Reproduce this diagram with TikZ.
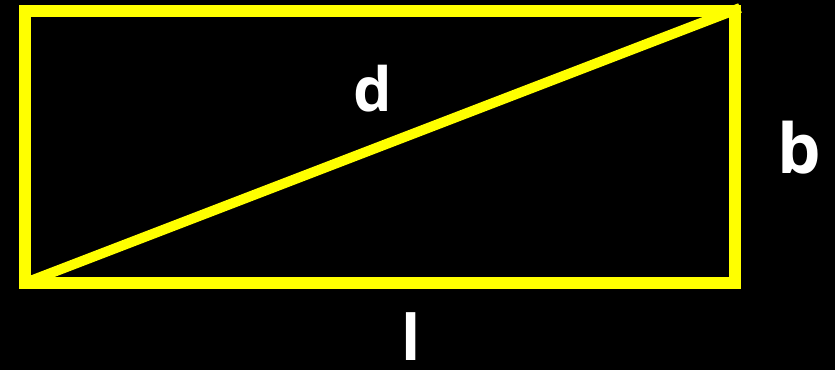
\documentclass[tikz,border=0pt]{standalone}
\usepackage{fontspec}
\setmainfont{Open Sans}
\definecolor{rectyellow}{RGB}{255,255,0}
\tikzset{
  side/.style={line width=12pt,rectyellow},
  diag/.style={line width=10pt,rectyellow},
  lbl/.style={text=white,inner sep=0pt,anchor=base,font=\bfseries}
}
\begin{document}
\begin{tikzpicture}[x=1pt,y=-1pt]
  \fill[black] (0,0) rectangle (835,370);
  \useasboundingbox (0,0) rectangle (835,370);
  % corners of the rectangle
  \coordinate (bl) at (25,283);
  \coordinate (tr) at (735,11);
  \coordinate (tip) at (740,8);
  \draw[side] (bl) rectangle (tr);
  \draw[diag] (bl) -- (tip);
  % labels
  \node[lbl,font=\bfseries\fontsize{61}{61}\selectfont] (d) at (373,111) {d};
  \node[lbl,font=\bfseries\fontsize{69}{69}\selectfont] (b) at (799,173) {b};
  \node[lbl,font=\bfseries\fontsize{63}{63}\selectfont] (l) at (411,360) {l};
\end{tikzpicture}
\end{document}
